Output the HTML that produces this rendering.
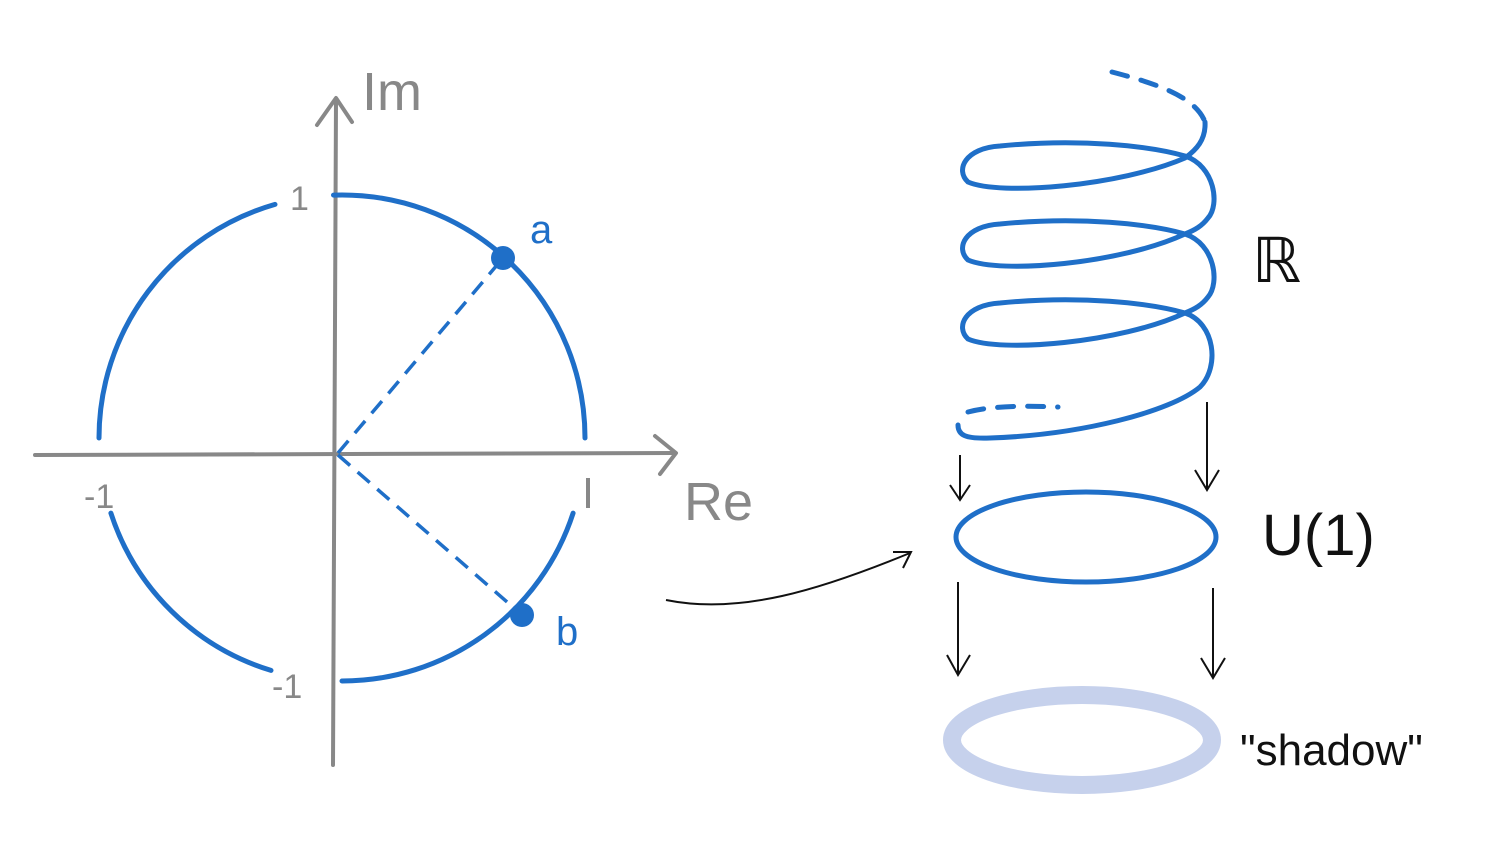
<!DOCTYPE html>
<html><head><meta charset="utf-8"><style>
html,body{margin:0;padding:0;background:#fff}
svg{display:block}
text{font-family:"Liberation Sans",sans-serif}
</style></head><body>
<svg id="c" width="1500" height="856" viewBox="0 0 1500 856">
<g>
  <path d="M35 455 L675 453" stroke="#888" stroke-width="4" fill="none" stroke-linecap="round"/>
  <path d="M655 436 L676 453 L660 474" stroke="#888" stroke-width="4" fill="none" stroke-linecap="round" stroke-linejoin="round"/>
  <path d="M333 765 L336 100" stroke="#888" stroke-width="4" fill="none" stroke-linecap="round"/>
  <path d="M317 125 L336 98 L352 122" stroke="#888" stroke-width="4" fill="none" stroke-linecap="round" stroke-linejoin="round"/>
  <text x="362" y="110" font-size="54" fill="#888">Im</text>
  <text x="684" y="520" font-size="54" fill="#888">Re</text>
  <text x="290" y="210" font-size="34" fill="#888">1</text>
  <text x="84" y="508" font-size="34" fill="#888">-1</text>
  <text x="272" y="698" font-size="34" fill="#888">-1</text>
  <path d="M588 478 L588 508" stroke="#888" stroke-width="4"/>
  <path id="circ" fill="none" stroke="#1f6fc8" stroke-width="5" stroke-linecap="round"/>
  <path d="M338 453 L503 258" stroke="#1f6fc8" stroke-width="3.5" stroke-dasharray="16 10" fill="none"/>
  <path d="M338 455 L522 615" stroke="#1f6fc8" stroke-width="3.5" stroke-dasharray="16 10" fill="none"/>
  <circle cx="503" cy="258" r="12" fill="#1f6fc8"/>
  <circle cx="522" cy="615" r="12" fill="#1f6fc8"/>
  <text x="530" y="243" font-size="40" fill="#1f6fc8">a</text>
  <text x="556" y="645" font-size="40" fill="#1f6fc8">b</text>
</g>
<path d="M666 600 C740 615 820 590 910 553 M893 552 L911 552 L903 568" stroke="#111" stroke-width="2" fill="none"/>
<g id="helix">
  <path d="M1112 72 C1150 82 1195 95 1205 122" fill="none" stroke="#1f6fc8" stroke-width="5" stroke-dasharray="16 14" stroke-linecap="round"/>
  <path d="M968 412 C995 405 1030 406 1058 407" fill="none" stroke="#1f6fc8" stroke-width="5" stroke-dasharray="16 14" stroke-linecap="round"/>
  <path id="helixSolid" fill="none" stroke="#1f6fc8" stroke-width="5" stroke-linecap="round" stroke-linejoin="round"/>
</g>
<ellipse cx="1086" cy="537" rx="130" ry="45" fill="none" stroke="#1f6fc8" stroke-width="5"/>
<ellipse cx="1082" cy="740" rx="130" ry="45" fill="none" stroke="#c6d1ec" stroke-width="18"/>
<g stroke="#111" stroke-width="2" fill="none">
  <path d="M960 455 L960 500 M950 485 L960 500 L970 485"/>
  <path d="M1207 402 L1207 490 M1195 470 L1207 490 L1219 470"/>
  <path d="M958 582 L958 675 M947 655 L958 675 L970 655"/>
  <path d="M1213 588 L1213 678 M1201 658 L1213 678 L1225 658"/>
</g>
<text x="1252" y="282" font-size="62" fill="#111">ℝ</text>
<text x="1262" y="555" font-size="58" fill="#111">U(1)</text>
<text x="1240" y="765" font-size="44" fill="#111">"shadow"</text>
</svg>
<script>
const circleCenter = [342, 438];
const circleRadius = 243;
const arcStarts = [-92, 18, 107, 180];
const arcEnds = [0, 90, 162, 254];
let cd = '';
for (let i = 0; i < arcStarts.length; i++) {
  const a0 = arcStarts[i] * Math.PI / 180, a1 = arcEnds[i] * Math.PI / 180;
  const x0 = circleCenter[0] + circleRadius * Math.cos(a0), y0 = circleCenter[1] + circleRadius * Math.sin(a0);
  const x1 = circleCenter[0] + circleRadius * Math.cos(a1), y1 = circleCenter[1] + circleRadius * Math.sin(a1);
  cd += `M${x0.toFixed(1)} ${y0.toFixed(1)} A${circleRadius} ${circleRadius} 0 0 1 ${x1.toFixed(1)} ${y1.toFixed(1)} `;
}
document.getElementById('circ').setAttribute('d', cd);

const loopLeftY = [170, 248, 327];
let d = 'M1205 122 C1206 140 1196 150 1185 158 ';
for (let k = 0; k < loopLeftY.length; k++) {
  const L = loopLeftY[k];
  d += `C1120 ${L+16} 1000 ${L+26} 968 ${L+12} `;
  d += `C955 ${L} 965 ${L-22} 1000 ${L-24} `;
  d += `C1080 ${L-32} 1150 ${L-24} 1185 ${L-14} `;
  if (k < loopLeftY.length - 1) {
    const N = loopLeftY[k+1];
    d += `C1215 ${L-4} 1220 ${L+35} 1208 ${N-30} `;
    d += `C1202 ${N-22} 1195 ${N-18} 1185 ${N-14} `;
  } else {
    d += `C1215 ${L-4} 1220 ${L+40} 1200 ${L+60} `;
    d += `C1170 ${L+85} 1080 ${L+108} 990 ${L+111} `;
    d += `C965 ${L+112} 958 ${L+108} 958 ${L+98} `;
  }
}
document.getElementById('helixSolid').setAttribute('d', d);
</script>
</body></html>
